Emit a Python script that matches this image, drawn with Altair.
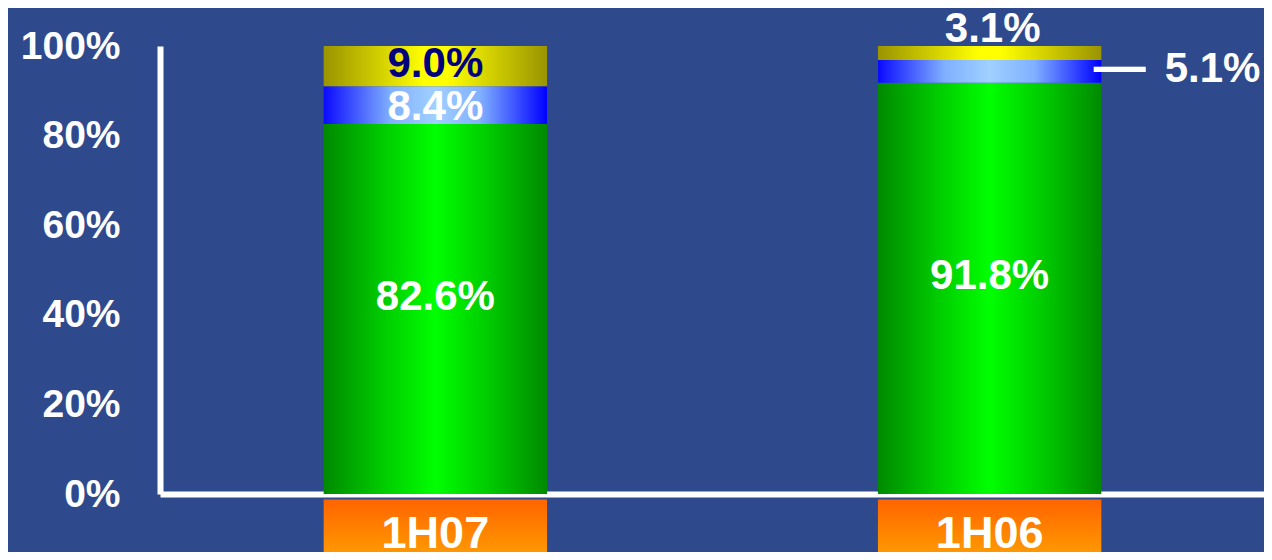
import altair as alt
import pandas as pd

periods = ["1H07", "1H06"]
segments = ["green", "blue", "yellow"]  # bottom to top
green_vals = [82.6, 91.8]
blue_vals = [8.4, 5.1]
yellow_vals = [9.0, 3.1]
y_ticks = [0, 20, 40, 60, 80, 100]

rows = []
for i, p in enumerate(periods):
    start = 0.0
    for seg, vals in zip(segments, [green_vals, blue_vals, yellow_vals]):
        v = vals[i]
        rows.append(dict(period=p, seg=seg, value=v, start=start, end=start + v,
                         mid=start + v / 2, label=f"{v:.1f}%"))
        start += v
df = pd.DataFrame(rows)

FONT = "Liberation Sans"
W, H = 1104, 448

x_scale = alt.Scale(domain=periods, range=[0, 1105], paddingInner=0.597, paddingOuter=0.2953)
y_scale = alt.Scale(domain=[0, 100], nice=False, zero=True)


def hgrad(stops):
    return alt.LinearGradient(gradient="linear", x1=0, y1=0, x2=1, y2=0,
                              stops=[alt.GradientStop(offset=o, color=c) for o, c in stops])


grad_green = hgrad([(0, "#008a00"), (0.25, "#00c800"), (0.5, "#00ff00"), (0.75, "#00c800"), (1, "#008a00")])
grad_blue = hgrad([(0, "#0a0aff"), (0.3, "#80b0ff"), (0.5, "#a0d0ff"), (0.7, "#80b0ff"), (1, "#0000ff")])
grad_yellow = hgrad([(0, "#9a9400"), (0.45, "#ffff00"), (0.55, "#ffff00"), (1, "#9a9400")])
grad_orange = alt.LinearGradient(gradient="linear", x1=0, y1=0, x2=0, y2=1,
                                 stops=[alt.GradientStop(offset=0, color="#ff6400"),
                                        alt.GradientStop(offset=1, color="#ff9e00")])

x_axis = alt.Axis(title=None, labels=False, ticks=False, grid=False)
y_axis = alt.Axis(title=None, values=y_ticks, labelExpr="datum.value + '%'", ticks=False, grid=False)

X = alt.X("period:N", scale=x_scale, sort=periods, axis=x_axis)


def Y(field):
    return alt.Y(field, scale=y_scale, axis=y_axis)


bars = []
for seg, grad in [("green", grad_green), ("blue", grad_blue), ("yellow", grad_yellow)]:
    bars.append(
        alt.Chart(df).transform_filter(f"datum.seg == '{seg}'").mark_bar(color=grad).encode(
            x=X, y=Y("start:Q"), y2="end:Q",
        )
    )

# category label boxes below the baseline
boxes = alt.Chart(df).transform_filter("datum.seg == 'green'").mark_bar(color=grad_orange).encode(
    x=X, y=alt.datum(-1.2), y2=alt.datum(-14.5)
)
box_text = alt.Chart(df).transform_filter("datum.seg == 'green'").mark_text(
    font=FONT, fontWeight="bold", fontSize=45, color="white", baseline="alphabetic"
).encode(x=X, y=alt.datum(-12.0), text="period:N")

txt = dict(font=FONT, fontWeight="bold", fontSize=42)

lab_green = alt.Chart(df).transform_filter("datum.seg == 'green'").mark_text(
    color="white", baseline="middle", dy=-12, **txt
).encode(x=X, y=Y("mid:Q"), text="label:N")

lab_blue = alt.Chart(df).transform_filter("datum.seg == 'blue' && datum.value >= 8").mark_text(
    color="white", baseline="middle", dy=2, **txt
).encode(x=X, y=Y("mid:Q"), text="label:N")

lab_yellow = alt.Chart(df).transform_filter("datum.seg == 'yellow' && datum.value >= 8").mark_text(
    color="#00007f", baseline="middle", dy=-2, **txt
).encode(x=X, y=Y("mid:Q"), text="label:N")

lab_top = alt.Chart(df).transform_filter("datum.seg == 'yellow' && datum.value < 8").mark_text(
    color="white", baseline="alphabetic", dy=-4, dx=3, **txt
).encode(x=X, y=Y("end:Q"), text="label:N")

lab_right = alt.Chart(df).transform_filter("datum.seg == 'blue' && datum.value < 8").mark_text(
    color="white", baseline="middle", align="left", dx=175, dy=-2, **txt
).encode(x=X, y=Y("mid:Q"), text="label:N")

leader = alt.Chart(df).transform_filter("datum.seg == 'blue' && datum.value < 8").mark_text(
    color="white", baseline="middle", align="center", dx=130, dy=-4,
    font=FONT, fontWeight="bold", fontSize=52, text="\u2014"
).encode(x=X, y=Y("mid:Q"))

chart = alt.layer(
    *bars, boxes, box_text, lab_green, lab_blue, lab_yellow, lab_top, lab_right, leader
).properties(
    width=W, height=H,
    autosize=alt.AutoSizeParams(type="none"),
    padding={"left": 152, "top": 38, "right": 0, "bottom": 58},
    background="#2f4a8c",
).configure(font=FONT).configure_view(stroke=None).configure_axis(
    domain=True, domainColor="white", domainWidth=6,
    labelPadding=40, labelFont=FONT, labelFontWeight="bold", labelFontSize=39,
    labelColor="white", labelBaseline="middle", zindex=1,
)

chart.save("out.html", embed_options={"renderer": "svg", "actions": False})
